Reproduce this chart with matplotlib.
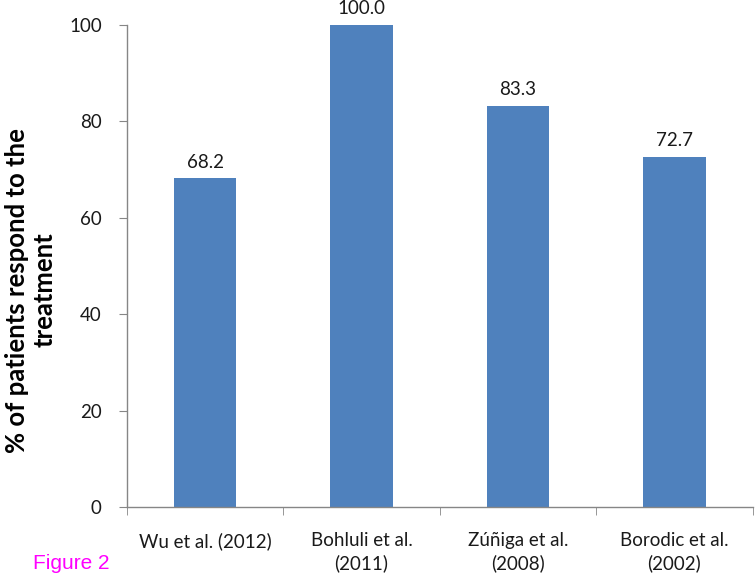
import matplotlib
matplotlib.use("Agg")
import matplotlib.pyplot as plt
import numpy as np

categories = ["Wu et al. (2012)", "Bohluli et al.\n(2011)", "Zúñiga et al.\n(2008)", "Borodic et al.\n(2002)"]
values = [68.2, 100.0, 83.3, 72.7]
yticks = [0, 20, 40, 60, 80, 100]

plt.rcParams['font.family'] = ['Lato', 'DejaVu Sans']

fig = plt.figure(figsize=(7.55, 5.82), dpi=100)
ax = fig.add_axes([0.168, 0.129, 0.829, 0.828])

x = np.arange(len(values))
bars = ax.bar(x, values, width=0.4, color="#4F81BD", zorder=2)
for xi, v in zip(x, values):
    ax.text(xi, v + 1.6, f"{v:.1f}", ha="center", va="bottom", fontsize=13.5, color="#1a1a1a")

ax.set_xlim(-0.5, len(values) - 0.5)
ax.set_ylim(0, 100)
ax.set_yticks(yticks)
ax.set_yticklabels([str(t) for t in yticks], fontsize=13.5, color="#1a1a1a")

ax.set_xticks(x)
ax.set_xticklabels(categories, fontsize=13.5, color="#1a1a1a", linespacing=1.35)
ax.tick_params(axis="x", which="major", length=0, pad=18)
ax.set_xticks(np.arange(-0.5, len(values)), minor=True)
ax.tick_params(axis="x", which="minor", length=6, color="#868686", direction="out")
ax.tick_params(axis="y", length=6, color="#868686", direction="out", pad=12)

for s in ["top", "right"]:
    ax.spines[s].set_visible(False)
for s in ["left", "bottom"]:
    ax.spines[s].set_color("#868686")
    ax.spines[s].set_linewidth(1.0)

ax.set_ylabel("% of patients respond to the\ntreatment", fontsize=18.5, fontweight="bold", linespacing=1.2)
ax.yaxis.set_label_coords(-0.112, 0.45)

fig.text(0.044, 0.031, "Figure 2", color="#FF00FF", fontsize=15, family="Liberation Sans", ha="left", va="center")

fig.savefig("out.png", dpi=100)
